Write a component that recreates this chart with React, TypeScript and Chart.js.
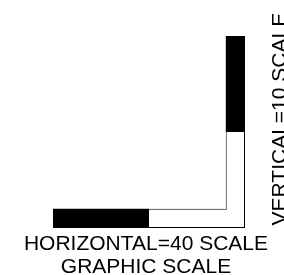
import React, { useEffect, useRef } from 'react';
import { Chart, registerables } from 'chart.js';

Chart.register(...registerables);

// ---- Data (scale units, feet) ----
const horizontalLabel = 'HORIZONTAL';
const horizontalSegments: [number, number][] = [[0, 40], [40, 80]]; // left -> right
const horizontalFills = ['#000000', '#ffffff'];

const verticalLabel = 'VERTICAL';
const verticalSegments: [number, number][] = [[0, 10], [10, 20]]; // bottom -> top
const verticalFills = ['#ffffff', '#000000'];

const captionLines = ['HORIZONTAL=40 SCALE', 'GRAPHIC SCALE'];
const verticalCaption = 'VERTICAL=10 SCALE';

// ---- Layout / style ----
const W = 284;
const H = 275;
const SLOTS = 10; // cross-axis slots; the bar occupies the outermost one
const FONT = '21px "Liberation Sans", Arial, sans-serif';

const slotLabels = (last: string) =>
  Array.from({ length: SLOTS }, (_, i) => (i === SLOTS - 1 ? last : 's' + i));

const captionPlugin = {
  id: 'scaleCaptions',
  afterDraw(chart: any) {
    const { ctx } = chart;
    ctx.save();
    ctx.fillStyle = '#000000';
    ctx.font = FONT;
    ctx.textAlign = 'center';
    ctx.textBaseline = 'alphabetic';
    captionLines.forEach((line, i) => ctx.fillText(line, 146, 250 + i * 22.5));
    ctx.translate(285.5, 225.5);
    ctx.rotate(-Math.PI / 2);
    ctx.textAlign = 'left';
    ctx.fillText(verticalCaption, 0, 0);
    ctx.restore();
  },
};

export default function App() {
  const ref = useRef<HTMLCanvasElement>(null);

  useEffect(() => {
    if (!ref.current) return;
    const common = {
      barPercentage: 1,
      categoryPercentage: 1,
      grouped: false,
      borderSkipped: false,
      inflateAmount: 0,
      borderColor: '#000000',
    };
    const hWhiteIdx = horizontalFills.indexOf('#ffffff');
    const vWhiteIdx = verticalFills.indexOf('#ffffff');
    const hBlackIdx = horizontalFills.indexOf('#000000');
    const vBlackIdx = verticalFills.indexOf('#000000');

    const hData = (seg: [number, number]) => [{ y: horizontalLabel, x: seg }];
    const vData = (seg: [number, number]) => [{ x: verticalLabel, y: seg }];

    const datasets: any[] = [
      {
        ...common,
        indexAxis: 'x',
        xAxisID: 'xv',
        yAxisID: 'y',
        data: vData(verticalSegments[vBlackIdx]),
        backgroundColor: verticalFills[vBlackIdx],
        borderWidth: 0,
      },
      {
        ...common,
        indexAxis: 'y',
        xAxisID: 'x',
        yAxisID: 'yh',
        data: hData(horizontalSegments[hBlackIdx]),
        backgroundColor: horizontalFills[hBlackIdx],
        borderWidth: 0,
      },
      {
        // interior of the white vertical segment, laid over the joint
        ...common,
        indexAxis: 'x',
        xAxisID: 'xv',
        yAxisID: 'y',
        data: vData(verticalSegments[vWhiteIdx]),
        backgroundColor: verticalFills[vWhiteIdx],
        borderColor: 'rgba(0,0,0,0)',
        borderWidth: 1,
      },
      {
        ...common,
        indexAxis: 'y',
        xAxisID: 'x',
        yAxisID: 'yh',
        data: hData(horizontalSegments[hWhiteIdx]),
        backgroundColor: horizontalFills[hWhiteIdx],
        borderWidth: { top: 1, bottom: 1, right: 1, left: 0 },
      },
      {
        ...common,
        indexAxis: 'x',
        xAxisID: 'xv',
        yAxisID: 'y',
        data: vData(verticalSegments[vWhiteIdx]),
        backgroundColor: verticalFills[vWhiteIdx],
        borderWidth: { top: 0, bottom: 1, right: 1, left: 1 },
      },
    ];

    const catAxis = (axis: string, labels: string[]) => ({
      type: 'category',
      axis,
      labels,
      offset: true,
      display: false,
      ticks: { autoSkip: false, display: false },
    });

    const chart = new Chart(ref.current, {
      type: 'bar',
      data: { datasets },
      options: {
        responsive: false,
        animation: false,
        events: [],
        layout: { padding: { left: 53, right: 39, top: 36, bottom: 47 } },
        scales: {
          x: { type: 'linear', min: 0, max: 80, offset: false, display: false },
          y: { type: 'linear', min: 0, max: 20, offset: false, display: false },
          xv: catAxis('x', slotLabels(verticalLabel)),
          yh: catAxis('y', slotLabels(horizontalLabel)),
        },
        plugins: {
          legend: { display: false },
          tooltip: { enabled: false },
          title: { display: false },
        },
      } as any,
      plugins: [captionPlugin],
    });
    return () => chart.destroy();
  }, []);

  return (
    <div style={{ position: 'absolute', left: 0, top: 0, width: W, height: H, background: '#ffffff' }}>
      <canvas ref={ref} width={W} height={H} style={{ display: 'block' }} />
    </div>
  );
}
